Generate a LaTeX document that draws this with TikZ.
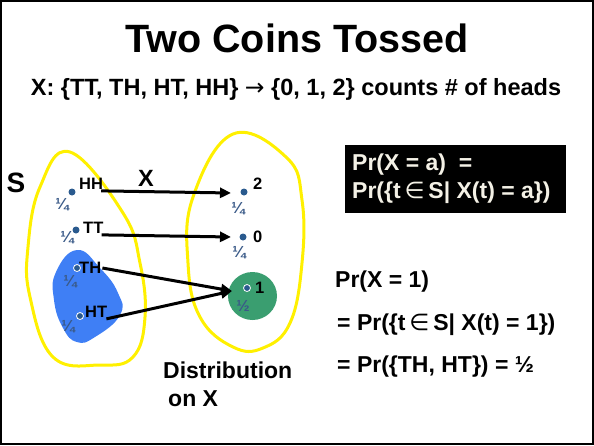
\documentclass[tikz,border=0pt]{standalone}
\usepackage{fontspec}
\setmainfont{Liberation Sans}
\newfontfamily\symfont{DejaVu Sans}
\usetikzlibrary{positioning,arrows.meta}
\definecolor{setyellow}{HTML}{FFF000}
\definecolor{eventblue}{HTML}{3F7FF5}
\definecolor{valuegreen}{HTML}{3A9E70}
\definecolor{dotblue}{HTML}{2A5A8E}
\definecolor{fracblue}{HTML}{3A5A88}
\definecolor{boxtext}{HTML}{F4F1E6}
\begin{document}
\begin{tikzpicture}[x=1pt, y=-1pt,
dotnode/.style={circle, fill=dotblue, inner sep=0pt, minimum size=7pt},
ringdot/.style={dotnode, draw=white, thick},
lbl/.style={font=\bfseries\fontsize{16.5}{18}\selectfont, inner sep=1pt, anchor=west},
fracnode/.style={font=\bfseries\fontsize{16}{17}\selectfont, text=fracblue, inner sep=0pt},
setline/.style={draw=setyellow, line width=3pt},
maparrow/.style={-{Triangle[length=11pt, width=10pt]}, line width=3pt},
eqnode/.style={font=\bfseries\fontsize{23}{26}\selectfont, anchor=west, inner sep=0pt},
]
\useasboundingbox (0,0) rectangle (594,445);
\draw[line width=2pt] (1,1) rectangle (593,444);

% headings
\node[font=\bfseries\fontsize{39.5}{44}\selectfont] (title) at (297,38) {Two Coins Tossed};
\node[font=\bfseries\fontsize{23.5}{26}\selectfont] (subtitle) at (296,89)
  {X: \{TT, TH, HT, HH\} {\symfont\mdseries →} \{0, 1, 2\} counts \# of heads};

% the two sets
\fill[eventblue] plot[smooth cycle, tension=0.8] coordinates
  {(77,250) (100,268) (118,293) (120,315) (95,337) (77,342) (63,328) (54,300) (56,272)};
\draw[setline] plot[smooth cycle, tension=0.7] coordinates
  {(70,152) (123,213) (140,263) (145,317) (133,357) (100,365) (53,357) (30,297) (28,247) (40,187)};
\draw[setline] plot[smooth cycle, tension=0.7] coordinates
  {(233,134) (287,158) (302,200) (302,263) (290,323) (263,348) (233,347) (200,317) (188,263) (193,197)};
\fill[valuegreen] (252.5,296) ellipse (24.5 and 24);

\node[font=\bfseries\fontsize{28}{32}\selectfont] (sname) at (16,183) {S};
\node[font=\bfseries\fontsize{23.5}{26}\selectfont] (xname) at (146,178) {X};

% outcomes
\node[dotnode] (hh) at (72,192) {};
\node[dotnode] (tt) at (76,230) {};
\node[ringdot] (th) at (77,268) {};
\node[ringdot] (ht) at (80,316) {};
\node[lbl] (hhlbl) at (78,184) {HH};
\node[lbl] (ttlbl) at (82,228) {TT};
\node[lbl] (thlbl) at (78,268) {TH};
\node[lbl] (htlbl) at (84,312) {HT};
\node[fracnode] (hhp) at (62,205) {¼};
\node[fracnode] (ttp) at (67,238) {¼};
\node[fracnode] (thp) at (70,282) {¼};
\node[fracnode] (htp) at (68,327) {¼};

% values
\node[dotnode] (two) at (244,192) {};
\node[dotnode] (zero) at (243,237) {};
\node[ringdot] (one) at (247,288) {};
\node[lbl] (twolbl) at (252,184) {2};
\node[lbl] (zerolbl) at (252,237) {0};
\node[lbl] (onelbl) at (254,288) {1};
\node[fracnode] (twop) at (238,209) {¼};
\node[fracnode] (zerop) at (239,253) {¼};
\node[fracnode] (onep) at (243,306) {½};

\coordinate (twoend) at (231,193);
\coordinate (zeroend) at (231,237);
\coordinate (oneend) at (232,291);
\draw[maparrow] ([xshift=-3pt]hhlbl.south east) -- (twoend);
\draw[maparrow] ([xshift=-3pt]ttlbl.south east) -- (zeroend);
\draw[maparrow] (thlbl.east) -- (oneend);
\draw[maparrow] ([xshift=-2pt]htlbl.south east) -- (oneend);

\node[font=\bfseries\fontsize{23}{28}\selectfont, align=left, anchor=north west, inner sep=0pt] (distlbl) at (163,362)
  {Distribution\\\hspace*{5pt}on X};

% definition box
\node[fill=black, text=boxtext, minimum width=221pt, minimum height=68pt, inner sep=0pt] (defbox) at (455.5,179) {};
\node[font=\bfseries\fontsize{23}{28}\selectfont, text=boxtext, align=left, anchor=west, inner sep=0pt] (deftext) at (352,179)
  {Pr(X = a)~~=\\Pr(\{t\,{\symfont\mdseries ∈}\,S| X(t) = a\})};

% worked case
\node[eqnode] (case1) at (335,282) {Pr(X = 1)};
\node[eqnode] (case2) at (337,325) {= Pr(\{t\,{\symfont\mdseries ∈}\,S| X(t) = 1\})};
\node[eqnode] (case3) at (337,367) {= Pr(\{TH, HT\}) = ½};
\end{tikzpicture}
\end{document}
